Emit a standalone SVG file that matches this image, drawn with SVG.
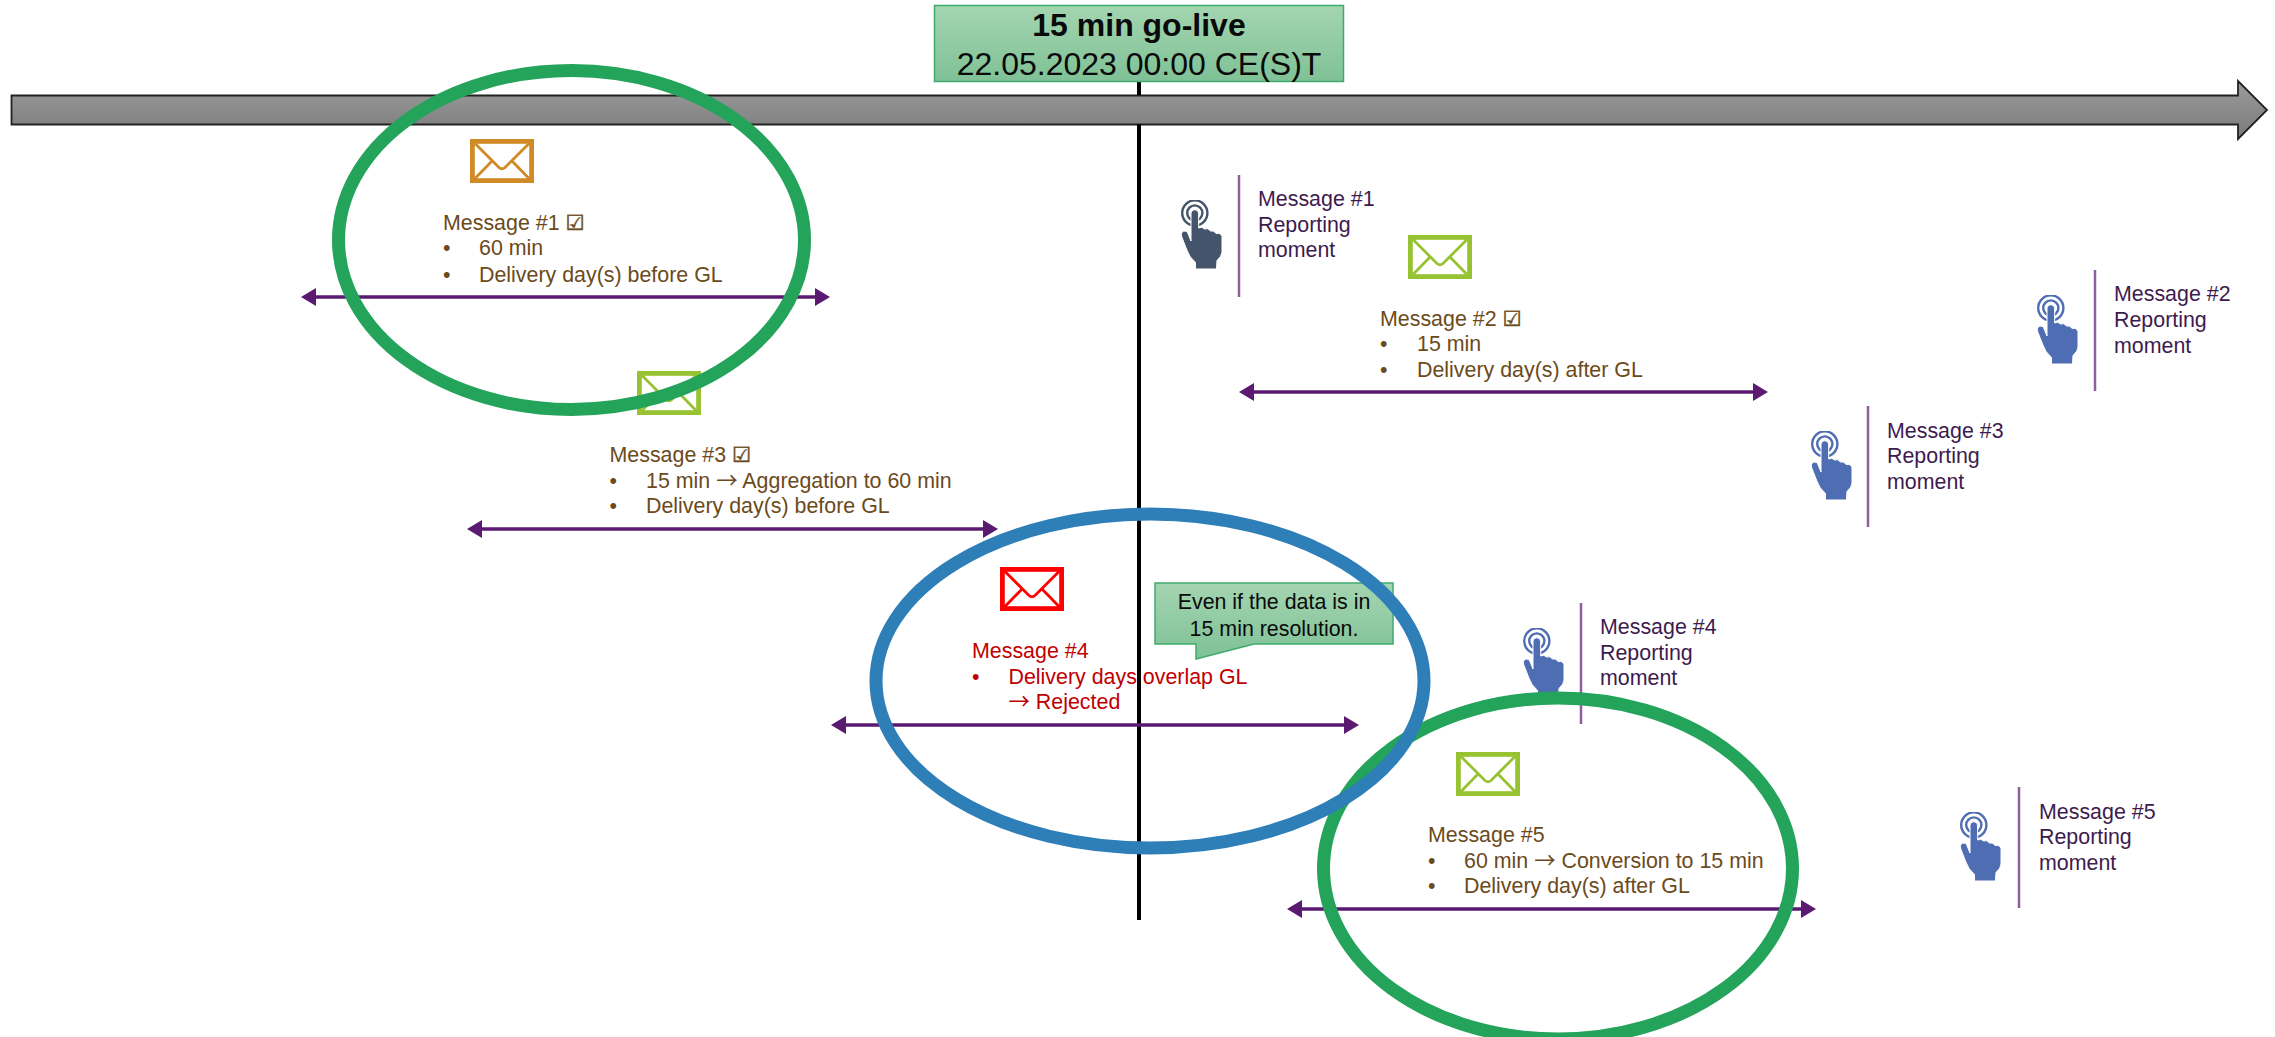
<svg xmlns="http://www.w3.org/2000/svg" width="2275" height="1037" viewBox="0 0 2275 1037">
<style>
text{font-family:"Liberation Sans","DejaVu Sans",sans-serif;font-size:21.4px}
.msg{fill:#6B4A1B}
.rej{fill:#C00000}
.rep{fill:#3E1B4E}
.blk{fill:#0a0a0a}
.arw{font-family:"Noto Sans CJK JP","Liberation Serif",sans-serif}
.chk{font-family:"DejaVu Sans",sans-serif;stroke:#6B4A1B;stroke-width:.45}
.div{stroke:#8E5E9E;stroke-width:2.5;fill:none}
.conn{stroke:#5B1A72;stroke-width:3.5;fill:none;marker-start:url(#ah);marker-end:url(#ah)}
.ring{fill:none;stroke-width:13}
.h1{color:#44546A}
.h2{color:#4E6DB3}
</style>
<defs>
<linearGradient id="gg" x1="0" y1="0" x2="0" y2="1"><stop offset="0" stop-color="#A4D5B0"/><stop offset="1" stop-color="#7FC196"/></linearGradient>
<linearGradient id="ga" x1="0" y1="0" x2="0" y2="1"><stop offset="0" stop-color="#9C9C9C"/><stop offset="1" stop-color="#7A7A7A"/></linearGradient>
<marker id="ah" markerUnits="userSpaceOnUse" markerWidth="16" markerHeight="20" refX="1" refY="10" orient="auto-start-reverse"><path d="M0 1L15 10L0 19Z" fill="#5B1A72"/></marker>
<symbol id="env" viewBox="0 0 64 44" preserveAspectRatio="none">
<g fill="none" stroke="currentColor"><rect x="2.4" y="2.4" width="59.2" height="39.2" stroke-width="4.8"/><path d="M4 3.500L29 28.500Q32 31 35 28.500L60 3.500M4 40.500L22 22M60 40.500L42 22" stroke-width="2.800"/></g>
</symbol>
<symbol id="hand" viewBox="0 0 41 69">
<g fill="none" stroke="currentColor" stroke-width="2.400"><circle cx="13.800" cy="13" r="12.600"/><circle cx="13.800" cy="13" r="7.600"/></g>
<path d="M10 13.500a3.800 3.800 0 0 1 7.600 0L17.700 28Q21 26 23.500 29Q27 27.500 29.500 31Q33 30 35 33.500Q39.500 32.500 41 36.500L41 52Q41 56 36 60.500L35.500 69L14.500 69L14.500 62.500Q8 57 5.500 49L.8 37Q-.5 32.500 2.500 31.200Q6 30.500 7.200 34L10 41Z" fill="currentColor" stroke="#fff" stroke-width="1"/>
</symbol>
</defs>
<g id="timeline">
<path d="M11.500 95.500H2238V81L2267 110L2238 139V124.500H11.500Z" fill="url(#ga)" stroke="#222" stroke-width="1.800"/>
</g>
<g id="message-1">
<use href="#env" x="470" y="139" width="64" height="44" style="color:#D08A26"/>
<text class="msg" x="443" y="230">Message #1 <tspan class="chk">☑</tspan></text>
<text class="msg" x="443" y="255">•</text><text class="msg" x="479" y="255">60 min</text>
<text class="msg" x="443" y="281.500">•</text><text class="msg" x="479" y="281.500">Delivery day(s) before GL</text>
</g>
<g id="message-2">
<use href="#env" x="1408" y="235" width="64" height="44" style="color:#97C232"/>
<text class="msg" x="1380" y="325.500">Message #2 <tspan class="chk">☑</tspan></text>
<text class="msg" x="1380" y="351">•</text><text class="msg" x="1417" y="351">15 min</text>
<text class="msg" x="1380" y="376.500">•</text><text class="msg" x="1417" y="376.500">Delivery day(s) after GL</text>
</g>
<g id="message-3">
<use href="#env" x="637" y="371" width="64" height="44" style="color:#97C232"/>
<text class="msg" x="609.500" y="462">Message #3 <tspan class="chk">☑</tspan></text>
<text class="msg" x="609.500" y="488">•</text><text class="msg" x="646" y="488">15 min <tspan class="arw">→</tspan> Aggregation to 60 min</text>
<text class="msg" x="609.500" y="513">•</text><text class="msg" x="646" y="513">Delivery day(s) before GL</text>
</g>
<g id="message-4">
<use href="#env" x="1000" y="567" width="64" height="44" style="color:#FF0000"/>
<text class="rej" x="972" y="658">Message #4</text>
<text class="rej" x="972" y="684">•</text><text class="rej" x="1008.500" y="684">Delivery days overlap GL</text>
<text class="rej" x="1008.500" y="709"><tspan class="arw">→</tspan> Rejected</text>
</g>
<g id="message-5">
<use href="#env" x="1456" y="752" width="64" height="44" style="color:#97C232"/>
<text class="msg" x="1428" y="842">Message #5</text>
<text class="msg" x="1428" y="868">•</text><text class="msg" x="1464" y="868">60 min <tspan class="arw">→</tspan> Conversion to 15 min</text>
<text class="msg" x="1428" y="893">•</text><text class="msg" x="1464" y="893">Delivery day(s) after GL</text>
</g>
<g id="reporting-1">
<use href="#hand" x="1181" y="200" width="41" height="69" class="h1"/>
<path class="div" d="M1239 175V297"/>
<text class="rep" x="1258" y="206">Message #1</text><text class="rep" x="1258" y="232">Reporting</text><text class="rep" x="1258" y="257">moment</text>
</g>
<g id="reporting-2">
<use href="#hand" x="2037" y="295" width="41" height="69" class="h2"/>
<path class="div" d="M2095 270V391"/>
<text class="rep" x="2114" y="301">Message #2</text><text class="rep" x="2114" y="327">Reporting</text><text class="rep" x="2114" y="352.500">moment</text>
</g>
<g id="reporting-3">
<use href="#hand" x="1811" y="431" width="41" height="69" class="h2"/>
<path class="div" d="M1868 406V527"/>
<text class="rep" x="1887" y="438">Message #3</text><text class="rep" x="1887" y="463">Reporting</text><text class="rep" x="1887" y="489">moment</text>
</g>
<g id="reporting-4">
<use href="#hand" x="1523" y="628" width="41" height="69" class="h2"/>
<path class="div" d="M1581 603V724"/>
<text class="rep" x="1600" y="634">Message #4</text><text class="rep" x="1600" y="660">Reporting</text><text class="rep" x="1600" y="685">moment</text>
</g>
<g id="reporting-5">
<use href="#hand" x="1960" y="812" width="41" height="69" class="h2"/>
<path class="div" d="M2019 787V908"/>
<text class="rep" x="2039" y="819">Message #5</text><text class="rep" x="2039" y="844">Reporting</text><text class="rep" x="2039" y="870">moment</text>
</g>
<g id="go-live-line">
<path d="M1139 81V95M1139 124V920" stroke="#000" stroke-width="4" fill="none"/>
</g>
<g id="connectors">
<path class="conn" d="M315 297H816"/>
<path class="conn" d="M1253 392H1754"/>
<path class="conn" d="M481 529H984"/>
<path class="conn" d="M845 725H1345"/>
<path class="conn" d="M1301 909H1802"/>
</g>
<g id="go-live">
<rect x="934.500" y="5.500" width="409" height="76" fill="url(#gg)" stroke="#3FAA6D" stroke-width="1.500"/>
<text class="blk" x="1139" y="36" text-anchor="middle" style="font-size:32px;font-weight:bold">15 min go-live</text>
<text class="blk" x="1139" y="75" text-anchor="middle" style="font-size:32px">22.05.2023 00:00 CE(S)T</text>
</g>
<g id="note">
<path d="M1155 583H1393V644H1254L1196 659V644H1155Z" fill="url(#gg)" stroke="#3FAA6D" stroke-width="1.500"/>
<text class="blk" x="1274" y="609" text-anchor="middle">Even if the data is in</text>
<text class="blk" x="1274" y="636" text-anchor="middle">15 min resolution.</text>
</g>
<g id="highlights">
<ellipse class="ring" cx="571.500" cy="240" rx="233" ry="169.500" stroke="#24A35A"/>
<ellipse class="ring" cx="1558" cy="868.500" rx="234.500" ry="170.500" stroke="#24A35A"/>
<ellipse class="ring" cx="1150" cy="681" rx="274" ry="167" stroke="#2E7EB8"/>
</g>
</svg>
